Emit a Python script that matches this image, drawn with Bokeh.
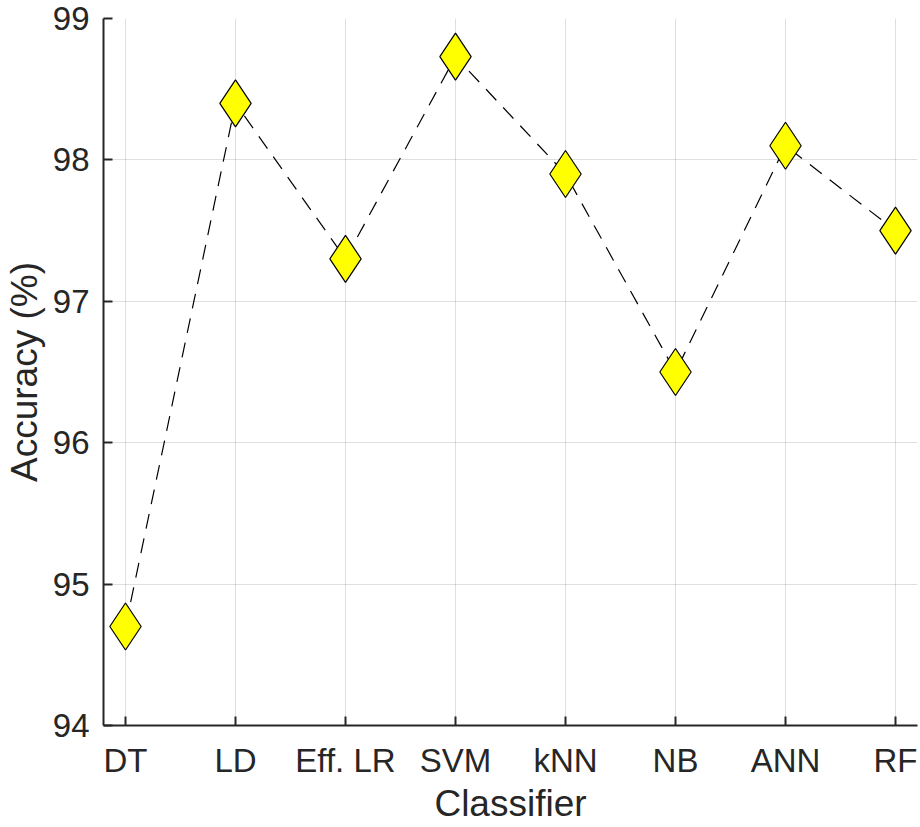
from bokeh.plotting import figure
from bokeh.models import Range1d, FixedTicker, ColumnDataSource
from bokeh.embed import file_html
from bokeh.resources import INLINE

classifiers = ["DT", "LD", "Eff. LR", "SVM", "kNN", "NB", "ANN", "RF"]
accuracy = [94.7, 98.4, 97.3, 98.73, 97.9, 96.5, 98.1, 97.5]
y_ticks = [94, 95, 96, 97, 98, 99]

xpos = list(range(1, len(classifiers) + 1))
src = ColumnDataSource(dict(x=xpos, y=accuracy, name=classifiers))

FONT = "Liberation Sans"
TXT = "#262626"

p = figure(width=920, height=827, output_backend="svg", toolbar_location=None,
           x_range=Range1d(0.8, 8.2), y_range=Range1d(94, 99),
           min_border_left=103, min_border_top=18, min_border_right=3,
           min_border_bottom=102)
p.outline_line_color = None
p.background_fill_color = "white"
p.border_fill_color = "white"

p.line("x", "y", source=src, line_color="black", line_width=1.2, line_dash="15 10")
p.scatter("x", "y", source=src, marker="diamond", size=47,
          fill_color="#ffff00", line_color="black", line_width=1.2)

p.xaxis.ticker = FixedTicker(ticks=xpos)
p.xaxis.major_label_overrides = {i: c for i, c in zip(xpos, classifiers)}
p.yaxis.ticker = FixedTicker(ticks=y_ticks)

p.xaxis.axis_label = "Classifier"
p.yaxis.axis_label = "Accuracy (%)"

for ax in (p.xaxis, p.yaxis):
    ax.axis_line_color = TXT
    ax.axis_line_width = 2
    ax.major_tick_line_color = TXT
    ax.major_tick_line_width = 2
    ax.major_tick_in = 9
    ax.major_tick_out = 0
    ax.minor_tick_line_color = None
    ax.major_label_text_font = FONT
    ax.major_label_text_font_size = "33px"
    ax.major_label_text_color = TXT
    ax.axis_label_text_font = FONT
    ax.axis_label_text_font_size = "37px"
    ax.axis_label_text_color = TXT
    ax.axis_label_text_font_style = "normal"

p.xaxis.major_label_standoff = 16
p.xaxis.axis_label_standoff = 1
p.yaxis.major_label_standoff = 14
p.yaxis.axis_label_standoff = 5

p.grid.grid_line_color = TXT
p.grid.grid_line_alpha = 0.15
p.grid.grid_line_width = 1

open("out.html", "w").write(file_html(p, INLINE))
